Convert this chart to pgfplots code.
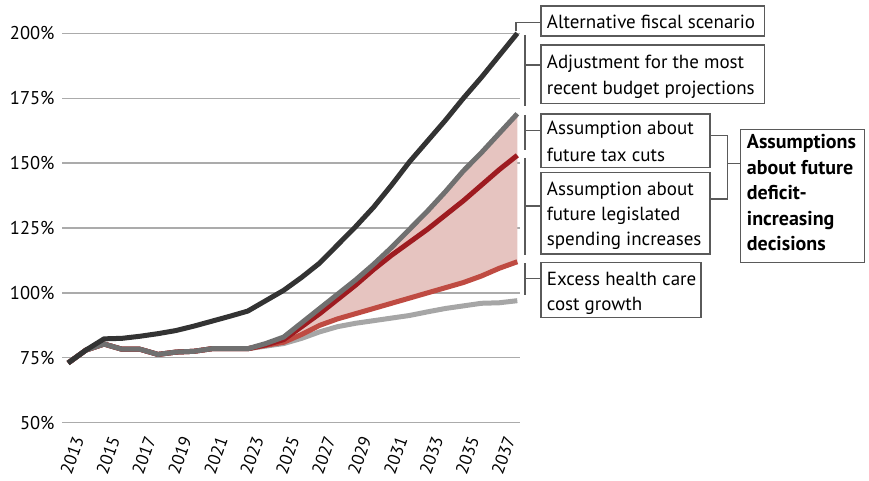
\documentclass[border=0pt]{standalone}
\usepackage{pgfplots}
\pgfplotsset{compat=1.18}
\usepgfplotslibrary{fillbetween}
\usepackage{pgfplotstable}
\usepackage{fontspec}
\setmainfont{PT Sans}
\definecolor{cblack}{HTML}{333333}
\definecolor{cdgray}{HTML}{707070}
\definecolor{cdred}{HTML}{9E1B20}
\definecolor{clred}{HTML}{BF4B42}
\definecolor{clgray}{HTML}{A6A6A6}
\definecolor{cfill}{HTML}{E6C4C0}
\definecolor{cbox}{HTML}{5A5A5A}
\pgfplotstableread{
year black dgray dred lred lgray
2013 73 73 73 73 73
2014 78 78 78 78 78
2015 82.3 80.3 80.3 80.3 80.3
2016 82.5 78.3 78.3 78.3 78.3
2017 83.3 78.3 78.3 78.3 78.3
2018 84.3 76.3 76.3 76.3 76.3
2019 85.5 77.2 77.2 77.2 77.2
2020 87.2 77.5 77.5 77.5 77.5
2021 89.1 78.5 78.5 78.5 78.5
2022 91 78.5 78.5 78.5 78.5
2023 93 78.5 78.5 78.5 78.5
2024 97 80.5 80 79.8 79.5
2025 101 83 82 81 80.5
2026 106 88.5 87 84 82.5
2027 111.5 94 92 87.5 85
2028 118.5 99.5 97.5 90 87
2029 125.5 105 103 92 88.3
2030 133 111 109 94 89.3
2031 141.5 117.5 114.5 96 90.3
2032 150.5 124.5 119.5 98 91.3
2033 158.5 131.5 124.5 100 92.7
2034 166.5 139 130 102 94
2035 175 147 135.5 104 95
2036 183 154 141.5 106.5 96
2037 191.5 161.5 147.5 109.5 96.2
2038 200 169 153 112 97
}\datatable
\newcommand\bfont{\fontsize{19}{23}\selectfont}
\begin{document}
\begin{tikzpicture}
\path (0pt,0pt) rectangle (869pt,-481pt);
\begin{axis}[
  at={(62pt,-422.7pt)}, anchor=south west,
  scale only axis, width=458pt, height=389.4pt,
  xmin=2012.66, xmax=2038.15, ymin=50, ymax=200,
  clip=false,
  axis line style={draw=none},
  major tick length=0pt,
  ytick={50,75,...,200},
  yticklabel={\pgfmathprintnumber{\tick}\%},
  xtick={2013,2015,...,2037},
  /pgf/number format/1000 sep={},
  /pgf/number format/assume math mode=true,
  yticklabel style={font=\fontsize{18.5}{22}\selectfont, xshift=-4pt},
  xticklabel style={font=\fontsize{17.5}{21}\selectfont, xshift=4pt, yshift=-33pt, rotate=70, anchor=center},
  ymajorgrids,
  grid style={color=black!33, line width=1.3pt},
]
\addplot[name path=top, draw=none, forget plot] table[x=year,y=dgray]{\datatable};
\addplot[name path=bot, draw=none, forget plot] table[x=year,y=lred]{\datatable};
\addplot[cfill, draw=none] fill between[of=top and bot];
\addplot[clgray, line width=5pt, line join=round] table[x=year,y=lgray]{\datatable};
\addplot[clred, line width=5pt, line join=round] table[x=year,y=lred]{\datatable};
\addplot[cdred, line width=5pt, line join=round] table[x=year,y=dred]{\datatable};
\addplot[cdgray, line width=5pt, line join=round] table[x=year,y=dgray]{\datatable};
\addplot[cblack, line width=5pt, line join=round] table[x=year,y=black]{\datatable};
\end{axis}
\begin{scope}[x=1pt,y=-1pt]
\begin{scope}[draw=cbox, line width=1.3pt]
\draw (541,6) rectangle (764.3,36);
\draw (541,45) rectangle (764.3,103.3);
\draw (541,114) rectangle (710,167.3);
\draw (541,172.7) rectangle (710,254);
\draw (541,262.3) rectangle (701,317.3);
\draw (740.7,129.3) rectangle (864.3,262.7);
\draw (516,31) -- (516,22.3) -- (541,22.3);
\draw (525,35) -- (525,106);
\draw (525,65) -- (541,65);
\draw (525,115) -- (525,150);
\draw (525,130.5) -- (541,130.5);
\draw (525,158) -- (525,255);
\draw (525,206) -- (541,206);
\draw (525,263) -- (525,295);
\draw (525,278.3) -- (541,278.3);
\draw (710,135.7) -- (727.7,135.7) -- (727.7,199) -- (710,199);
\draw (727.7,163.3) -- (740.7,163.3);
\end{scope}
\begin{scope}[every node/.style={anchor=base west, inner sep=0pt, font=\bfont}]
\node at (546.7,28.3) {Alternative fiscal scenario};
\node at (546.7,68.3) {Adjustment for the most};
\node at (546.7,94.3) {recent budget projections};
\node at (546.7,135) {Assumption about};
\node at (546.7,161) {future tax cuts};
\node at (546.7,195) {Assumption about};
\node at (546.7,220.3) {future legislated};
\node at (546.7,245.7) {spending increases};
\node at (546.7,285) {Excess health care};
\node at (546.7,310) {cost growth};
\begin{scope}[every node/.append style={font=\fontsize{20}{24}\selectfont\bfseries}]
\node at (746.7,149) {Assumptions};
\node at (746.7,175) {about future};
\node at (746.7,200) {deficit-};
\node at (746.7,225) {increasing};
\node at (746.7,250.7) {decisions};
\end{scope}
\end{scope}
\end{scope}
\end{tikzpicture}
\end{document}
